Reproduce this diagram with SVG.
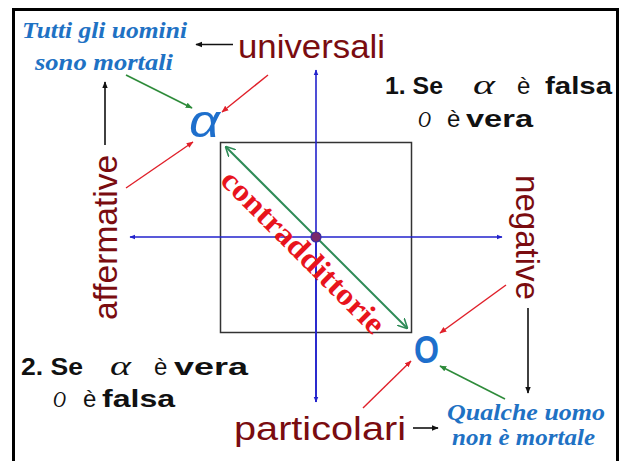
<svg xmlns="http://www.w3.org/2000/svg" width="621" height="461" viewBox="0 0 621 461">
<style>
.lab{font-family:"Liberation Sans",Arial,sans-serif;font-size:34px;fill:#7a0c10}
.it{font-family:"Liberation Serif","Times New Roman",serif;font-style:italic;font-weight:bold;font-size:23px;fill:#1f72c4}
.bk{font-family:"Liberation Sans",Arial,sans-serif;font-size:24px;fill:#111;font-weight:bold}
.nb{font-weight:normal}
.gr{font-family:"Liberation Serif","Times New Roman",serif;font-style:italic;font-weight:normal;fill:#111}
.big{font-family:"Liberation Sans","DejaVu Sans",sans-serif;fill:#1e6fcc}
.red{stroke:#e0202a;stroke-width:1.4;fill:none;marker-end:url(#mr)}
.grn{stroke:#2e8b3a;stroke-width:1.6;fill:none;marker-end:url(#mg)}
.blk{stroke:#111;stroke-width:1.6;fill:none;marker-end:url(#mk)}
.blu{stroke:#2222cc;stroke-width:1.6;fill:none}
</style>
<defs>
<marker id="mr" viewBox="0 0 10 10" refX="9" refY="5" markerWidth="7" markerHeight="7" markerUnits="userSpaceOnUse" orient="auto"><path d="M0,1 L10,5 L0,9 z" fill="#e0202a"/></marker>
<marker id="mg" viewBox="0 0 10 10" refX="9" refY="5" markerWidth="7" markerHeight="7" markerUnits="userSpaceOnUse" orient="auto"><path d="M0,1 L10,5 L0,9 z" fill="#2e8b3a"/></marker>
<marker id="mk" viewBox="0 0 10 10" refX="9" refY="5" markerWidth="7" markerHeight="7" markerUnits="userSpaceOnUse" orient="auto"><path d="M0,1 L10,5 L0,9 z" fill="#111"/></marker>
<marker id="mb" viewBox="0 0 10 10" refX="9" refY="5" markerWidth="6" markerHeight="6" markerUnits="userSpaceOnUse" orient="auto"><path d="M0,1 L10,5 L0,9 z" fill="#2222cc"/></marker>
<marker id="mgs" viewBox="0 0 10 10" refX="9" refY="5" markerWidth="10" markerHeight="10" markerUnits="userSpaceOnUse" orient="auto-start-reverse"><path d="M0,0 L10,5 L0,10" fill="none" stroke="#2e8b57" stroke-width="1.6"/></marker>
</defs>
<rect x="0" y="0" width="621" height="461" fill="#fff"/>
<rect x="13.5" y="9.5" width="604" height="470" fill="none" stroke="#000" stroke-width="3"/>

<g id="square">
<rect x="220.5" y="142.5" width="191" height="190" fill="none" stroke="#333" stroke-width="1.5"/>
</g>

<g id="connectors">
<line class="blu" x1="316" y1="402" x2="316" y2="70" marker-end="url(#mb)"/>
<line class="blu" x1="316" y1="237" x2="316" y2="402" marker-end="url(#mb)"/>
<line class="blu" x1="316" y1="237" x2="130" y2="237" marker-end="url(#mb)"/>
<line class="blu" x1="316" y1="237" x2="502" y2="237" marker-end="url(#mb)"/>
<line x1="226" y1="147" x2="407" y2="328" stroke="#2e8b57" stroke-width="2" marker-start="url(#mgs)" marker-end="url(#mgs)"/>
<line class="blk" x1="233" y1="44.5" x2="196" y2="44.5"/>
<line class="blk" x1="105" y1="145" x2="105" y2="82"/>
<line class="blk" x1="528" y1="308" x2="528" y2="393"/>
<line class="blk" x1="413" y1="428" x2="438" y2="428"/>
<line class="grn" x1="126" y1="75" x2="192" y2="108"/>
<line class="grn" x1="505" y1="399" x2="440" y2="366"/>
<line class="red" x1="268" y1="75" x2="222" y2="112"/>
<line class="red" x1="126" y1="188" x2="193" y2="142"/>
<line class="red" x1="506" y1="285" x2="440" y2="333"/>
<line class="red" x1="363" y1="408" x2="411" y2="361"/>
</g>

<g id="center-dot"><circle cx="316" cy="237" r="5" fill="#7a2a6a" stroke="#3a2aa0" stroke-width="1.2"/></g>

<g id="contraddittorie">
<text transform="translate(296,259) rotate(45)" text-anchor="middle" font-family="'Liberation Serif','Times New Roman',serif" font-weight="bold" font-size="31" fill="#e8141c" textLength="218" lengthAdjust="spacingAndGlyphs">contraddittorie</text>
</g>

<g id="alpha"><text class="big" x="189" y="137" font-size="46" font-style="italic" textLength="31" lengthAdjust="spacingAndGlyphs">α</text></g>
<g id="o"><text class="big" x="414" y="363" font-size="38" font-weight="bold" textLength="25" lengthAdjust="spacingAndGlyphs">O</text></g>

<g id="universali"><text class="lab" x="238" y="58" textLength="147" lengthAdjust="spacingAndGlyphs">universali</text></g>
<g id="particolari"><text class="lab" x="234" y="440" textLength="172" lengthAdjust="spacingAndGlyphs">particolari</text></g>
<g id="affermative"><text class="lab" transform="translate(117,320) rotate(-90)" textLength="165" lengthAdjust="spacingAndGlyphs">affermative</text></g>
<g id="negative"><text class="lab" transform="translate(516,175) rotate(90)" textLength="125" lengthAdjust="spacingAndGlyphs">negative</text></g>

<g id="tutti">
<text class="it" x="22" y="38" textLength="165" lengthAdjust="spacingAndGlyphs">Tutti gli uomini</text>
<text class="it" x="35" y="70" textLength="138" lengthAdjust="spacingAndGlyphs">sono mortali</text>
</g>
<g id="qualche">
<text class="it" x="447" y="420" textLength="158" lengthAdjust="spacingAndGlyphs">Qualche uomo</text>
<text class="it" x="452" y="445" textLength="143" lengthAdjust="spacingAndGlyphs">non è mortale</text>
</g>

<g id="rule1">
<text class="bk" x="385" y="94" textLength="58" lengthAdjust="spacingAndGlyphs">1. Se</text>
<text class="gr" x="473" y="94" font-size="28" textLength="22" lengthAdjust="spacingAndGlyphs">α</text>
<text class="bk nb" x="517" y="94">è</text>
<text class="bk" x="545" y="94" textLength="67" lengthAdjust="spacingAndGlyphs">falsa</text>
<text class="gr" x="418" y="127" font-size="24" textLength="13" lengthAdjust="spacingAndGlyphs">O</text>
<text class="bk nb" x="447" y="127">è</text>
<text class="bk" x="466" y="127" textLength="67" lengthAdjust="spacingAndGlyphs">vera</text>
</g>
<g id="rule2">
<text class="bk" x="21" y="375" textLength="62" lengthAdjust="spacingAndGlyphs">2. Se</text>
<text class="gr" x="110" y="375" font-size="28" textLength="21" lengthAdjust="spacingAndGlyphs">α</text>
<text class="bk nb" x="154" y="375">è</text>
<text class="bk" x="174" y="375" textLength="74" lengthAdjust="spacingAndGlyphs">vera</text>
<text class="gr" x="53" y="407" font-size="24" textLength="13" lengthAdjust="spacingAndGlyphs">O</text>
<text class="bk nb" x="83" y="407">è</text>
<text class="bk" x="102" y="407" textLength="73" lengthAdjust="spacingAndGlyphs">falsa</text>
</g>
</svg>
